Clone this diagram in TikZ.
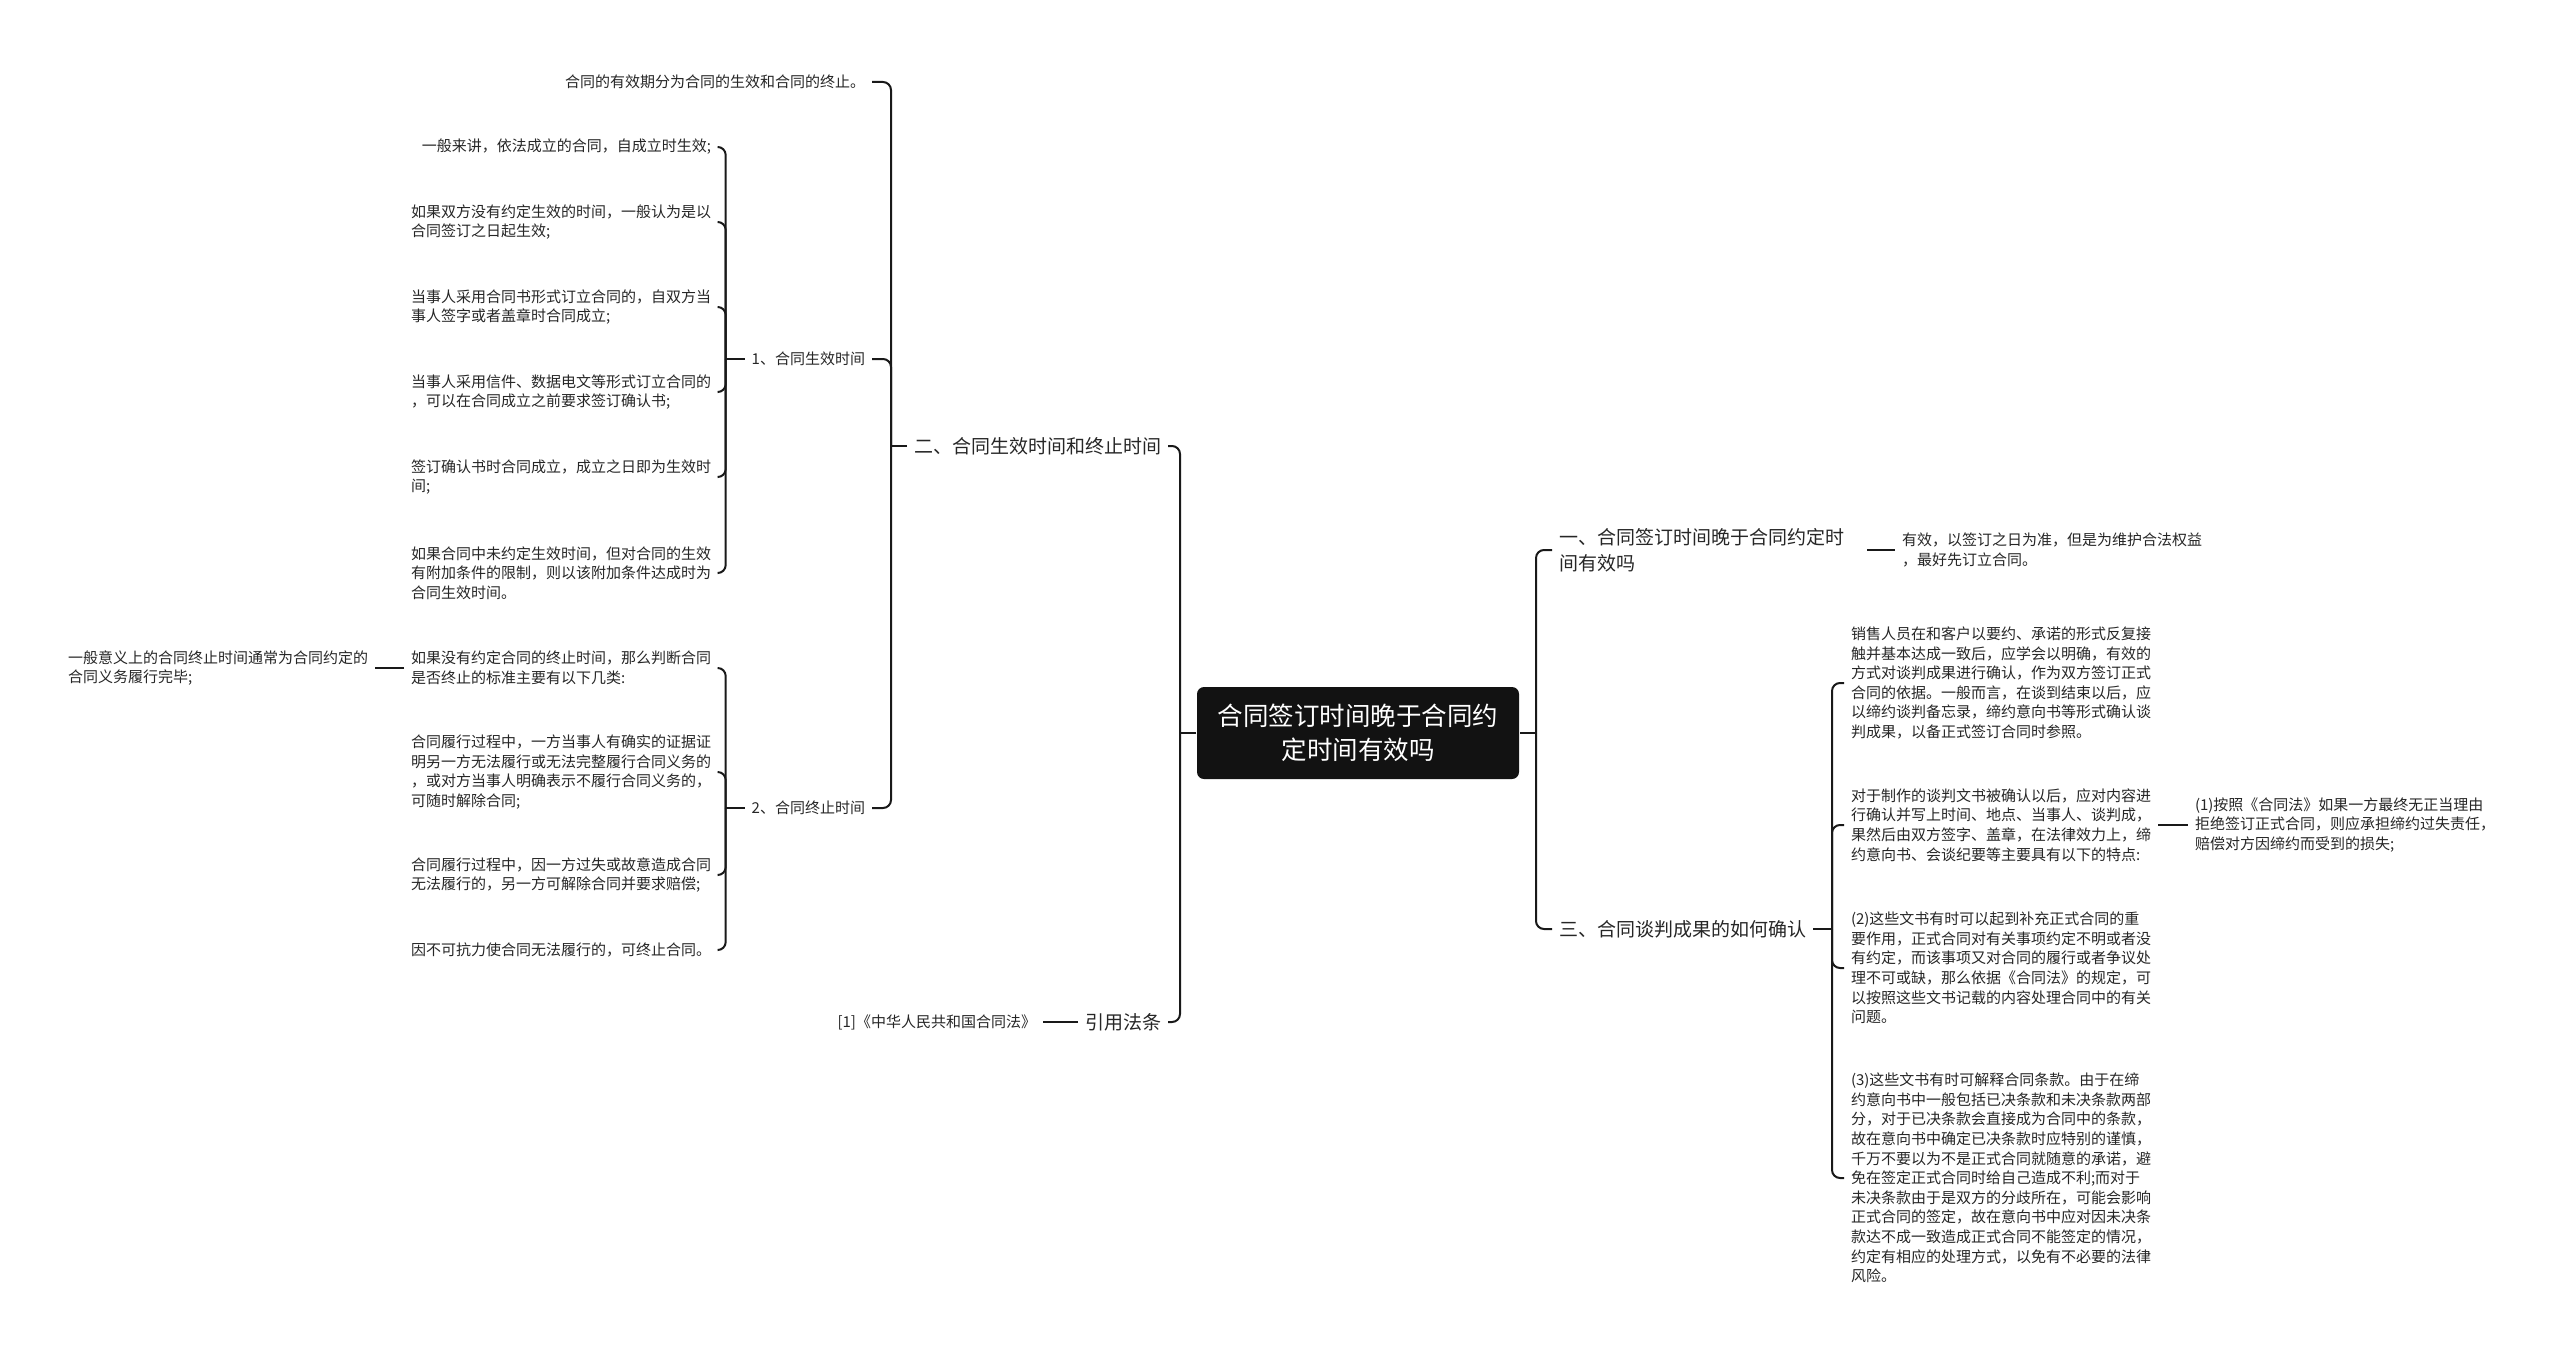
\documentclass[tikz,border=0pt]{standalone}
\usepackage{fontspec}
\setmainfont{Noto Sans CJK SC}
\usetikzlibrary{positioning}
\tikzset{every picture/.style={line width=2pt}}

\begin{document}
\begin{tikzpicture}[x=1pt, y=-1pt,
    leaf/.style={text=black!85, align=left, inner xsep=6pt, inner ysep=2pt, font=\fontsize{15}{19.6}\selectfont},
    branch/.style={text=black!85, align=left, inner xsep=6pt, inner ysep=2pt, font=\fontsize{19}{26}\selectfont},
    link/.style={draw=black!90, rounded corners=8pt}]
    \useasboundingbox (0,0) rectangle (2560,1354);

    \node[fill=black!93, text=white, rounded corners=7pt, minimum width=322pt, minimum height=92pt, align=center, font=\fontsize{25.5}{34}\selectfont] (root) at (1358,733) {合同签订时间晚于合同约\\定时间有效吗};

    % left half
    \node[branch, anchor=east] (B2) at (1168,446) {二、合同生效时间和终止时间};
    \node[branch, anchor=east] (B4) at (1168,1022) {引用法条};
    \node[leaf, left=35pt of B4] (ref) {[1]《中华人民共和国合同法》};

    \node[leaf, anchor=east] (L1) at (872,82) {合同的有效期分为合同的生效和合同的终止。};
    \node[leaf, anchor=east] (S1) at (872,359) {1、合同生效时间};
    \node[leaf, anchor=east] (S2) at (872,808) {2、合同终止时间};

    \node[leaf, anchor=east] (c1) at (718,147) {一般来讲，依法成立的合同，自成立时生效;};
    \node[leaf, anchor=east] (c2) at (718,222) {如果双方没有约定生效的时间，一般认为是以\\合同签订之日起生效;};
    \node[leaf, anchor=east] (c3) at (718,307) {当事人采用合同书形式订立合同的，自双方当\\事人签字或者盖章时合同成立;};
    \node[leaf, anchor=east] (c4) at (718,392) {当事人采用信件、数据电文等形式订立合同的\\，可以在合同成立之前要求签订确认书;};
    \node[leaf, anchor=east] (c5) at (718,477) {签订确认书时合同成立，成立之日即为生效时\\间;};
    \node[leaf, anchor=east] (c6) at (718,573) {如果合同中未约定生效时间，但对合同的生效\\有附加条件的限制，则以该附加条件达成时为\\合同生效时间。};

    \node[leaf, anchor=east] (d1) at (718,668) {如果没有约定合同的终止时间，那么判断合同\\是否终止的标准主要有以下几类:};
    \node[leaf, anchor=east] (d2) at (718,772) {合同履行过程中，一方当事人有确实的证据证\\明另一方无法履行或无法完整履行合同义务的\\，或对方当事人明确表示不履行合同义务的，\\可随时解除合同;};
    \node[leaf, anchor=east] (d3) at (718,875) {合同履行过程中，因一方过失或故意造成合同\\无法履行的，另一方可解除合同并要求赔偿;};
    \node[leaf, anchor=east] (d4) at (718,950) {因不可抗力使合同无法履行的，可终止合同。};
    \node[leaf, left=29pt of d1] (e1) {一般意义上的合同终止时间通常为合同约定的\\合同义务履行完毕;};

    % right half
    \node[branch, anchor=west] (R1) at (1552,550) {一、合同签订时间晚于合同约定时\\间有效吗};
    \node[leaf, right=44pt of R1] (h1) {有效，以签订之日为准，但是为维护合法权益\\，最好先订立合同。};
    \node[branch, anchor=west] (R2) at (1552,929) {三、合同谈判成果的如何确认};

    \node[leaf, anchor=west] (f1) at (1844,683) {销售人员在和客户以要约、承诺的形式反复接\\触并基本达成一致后，应学会以明确，有效的\\方式对谈判成果进行确认，作为双方签订正式\\合同的依据。一般而言，在谈到结束以后，应\\以缔约谈判备忘录，缔约意向书等形式确认谈\\判成果，以备正式签订合同时参照。};
    \node[leaf, anchor=west] (f2) at (1844,825) {对于制作的谈判文书被确认以后，应对内容进\\行确认并写上时间、地点、当事人、谈判成，\\果然后由双方签字、盖章，在法律效力上，缔\\约意向书、会谈纪要等主要具有以下的特点:};
    \node[leaf, anchor=west] (f3) at (1844,968) {(2)这些文书有时可以起到补充正式合同的重\\要作用，正式合同对有关事项约定不明或者没\\有约定，而该事项又对合同的履行或者争议处\\理不可或缺，那么依据《合同法》的规定，可\\以按照这些文书记载的内容处理合同中的有关\\问题。};
    \node[leaf, anchor=west] (f4) at (1844,1178) {(3)这些文书有时可解释合同条款。由于在缔\\约意向书中一般包括已决条款和未决条款两部\\分，对于已决条款会直接成为合同中的条款，\\故在意向书中确定已决条款时应特别的谨慎，\\千万不要以为不是正式合同就随意的承诺，避\\免在签定正式合同时给自己造成不利;而对于\\未决条款由于是双方的分歧所在，可能会影响\\正式合同的签定，故在意向书中应对因未决条\\款达不成一致造成正式合同不能签定的情况，\\约定有相应的处理方式，以免有不必要的法律\\风险。};
    \node[leaf, right=30pt of f2] (g1) {(1)按照《合同法》如果一方最终无正当理由\\拒绝签订正式合同，则应承担缔约过失责任，\\赔偿对方因缔约而受到的损失;};

    % junctions
    \coordinate (jL) at ([xshift=-16pt]root.west);
    \coordinate (jR) at ([xshift=16pt]root.east);
    \coordinate (jB2) at ([xshift=-16pt]B2.west);
    \coordinate (jS1) at ([xshift=-19pt]S1.west);
    \coordinate (jS2) at ([xshift=-19pt]S2.west);
    \coordinate (jR2) at ([xshift=19pt]R2.east);
    \coordinate (jR1) at ([xshift=16pt]R1.east);

    \draw[link] (root.west) -- (jL);
    \draw[link] (jL) |- (B2.east);
    \draw[link] (jL) |- (B4.east);
    \draw[link] (B4.west) -- (ref.east);

    \draw[link] (B2.west) -- (jB2);
    \draw[link] (jB2) |- (L1.east);
    \draw[link] (jB2) |- (S1.east);
    \draw[link] (jB2) |- (S2.east);

    \draw[link] (S1.west) -- (jS1);
    \draw[link] (jS1) |- (c1.east);
    \draw[link] (jS1) |- (c2.east);
    \draw[link] (jS1) |- (c3.east);
    \draw[link] (jS1) |- (c4.east);
    \draw[link] (jS1) |- (c5.east);
    \draw[link] (jS1) |- (c6.east);

    \draw[link] (S2.west) -- (jS2);
    \draw[link] (jS2) |- (d1.east);
    \draw[link] (jS2) |- (d2.east);
    \draw[link] (jS2) |- (d3.east);
    \draw[link] (jS2) |- (d4.east);
    \draw[link] (d1.west) -- (e1.east);

    \draw[link] (root.east) -- (jR);
    \draw[link] (jR) |- (R1.west);
    \draw[link] (jR) |- (R2.west);
    \draw[link] (jR1) -- (h1.west);

    \draw[link] (R2.east) -- (jR2);
    \draw[link] (jR2) |- (f1.west);
    \draw[link] (jR2) |- (f2.west);
    \draw[link] (jR2) |- (f3.west);
    \draw[link] (jR2) |- (f4.west);
    \draw[link] (f2.east) -- (g1.west);
\end{tikzpicture}
\end{document}
